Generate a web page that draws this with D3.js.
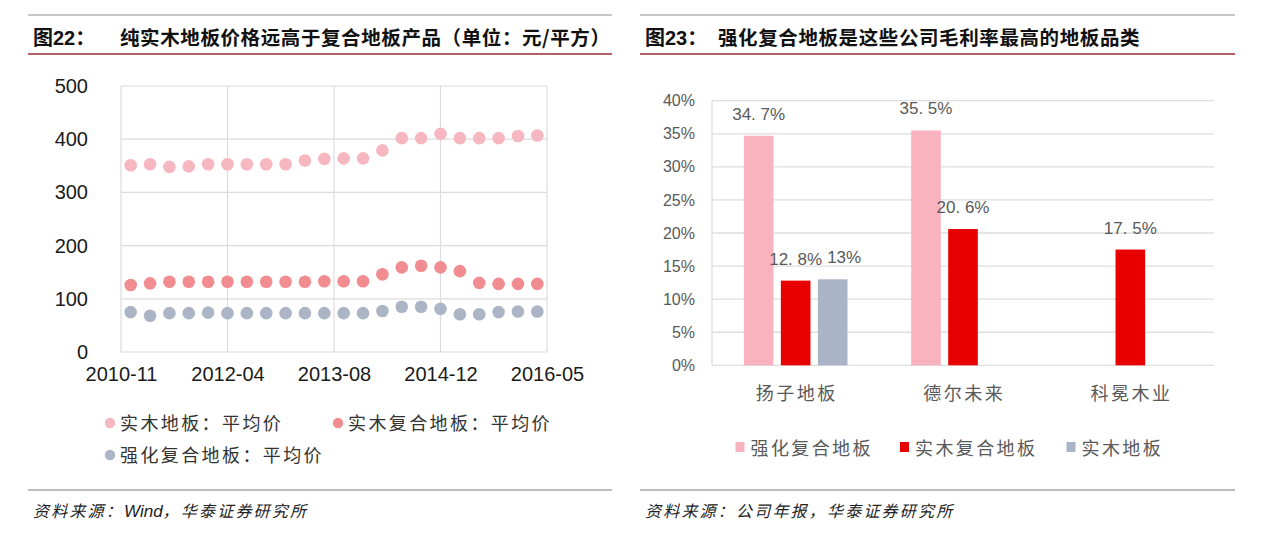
<!DOCTYPE html>
<html><head><meta charset="utf-8">
<script src="https://cdn.jsdelivr.net/npm/d3@7"></script>
<style>
body{margin:0;background:#fff;}
svg{display:block;}
</style></head>
<body>
<svg id="c" width="1280" height="534"></svg>
<script>
// ---------- DATA: left chart (quarterly average prices, 元/平方) ----------
const quarterCount = 22;
const xTickLabels = ["2010-11","2012-04","2013-08","2014-12","2016-05"];
const yTicksLeft = [0,100,200,300,400,500];
const solidWood = [351,353,348,349,353,353,353,353,353,360,363,364,364,379,402,402,410,402,402,402,406,407];
const engineeredWood = [126,129,132,132,132,132,132,132,132,132,133,133,133,146,159,162,159,152,130,128,128,128];
const laminate = [75,68,73,73,74,73,73,73,73,73,73,73,73,77,85,85,81,71,71,75,76,76];
const leftSeriesNames = ["实木地板：平均价","实木复合地板：平均价","强化复合地板：平均价"];

// ---------- DATA: right chart (gross margin %) ----------
const companies = ["扬子地板","德尔未来","科冕木业"];
const rightSeriesNames = ["强化复合地板","实木复合地板","实木地板"];
const marginLaminate = [34.7,35.5,null];
const marginEngineered = [12.8,20.6,17.5];
const marginSolid = [13,null,null];
const yTicksRight = [0,5,10,15,20,25,30,35,40];

const svg = d3.select("#c");
svg.append("rect").attr("width",1280).attr("height",534).attr("fill","#fff");

const CJK = "'Noto Sans CJK SC','Noto Sans',sans-serif";
const LAT = "'Liberation Sans',Arial,sans-serif";

// ---------- frame lines & titles ----------
function panelFrame(x0,x1,num,title,source){
  svg.append("line").attr("x1",x0).attr("x2",x1).attr("y1",15).attr("y2",15)
    .attr("stroke","#b4b4b4").attr("stroke-width",1.5);
  svg.append("line").attr("x1",x0).attr("x2",x1).attr("y1",54).attr("y2",54)
    .attr("stroke","#9c2a30").attr("stroke-width",1.3);
  svg.append("line").attr("x1",x0).attr("x2",x1).attr("y1",490).attr("y2",490)
    .attr("stroke","#a8a8a8").attr("stroke-width",1.3);
  const t = svg.append("text").attr("x",x0+5).attr("y",45).attr("font-size",20)
    .attr("font-weight",700).attr("fill","#111");
  t.append("tspan").attr("font-family",CJK).text("图");
  t.append("tspan").attr("font-family",LAT).text(num);
  t.append("tspan").attr("font-family",CJK).text("：");
  svg.append("text").attr("x",x0+ (num==="22"?92:78)).attr("y",45).attr("font-size",19.5)
    .attr("font-weight",700).attr("font-family",CJK).attr("letter-spacing",0.6)
    .attr("fill","#111").text(title);
  const s = svg.append("text").attr("x",x0+5).attr("y",517).attr("font-size",16)
    .attr("font-style","italic").attr("font-family",CJK)
    .attr("fill","#222");
  source.forEach(p=>s.append("tspan").attr("font-family",p[1]?LAT:CJK)
    .attr("font-size",p[1]?17:16).attr("letter-spacing",p[1]?0:2.2).text(p[0]));
}
panelFrame(28,612,"22","纯实木地板价格远高于复合地板产品（单位：元/平方）",
  [["资料来源：",0],["Wind",1],["，华泰证券研究所",0]]);
panelFrame(640,1235,"23","强化复合地板是这些公司毛利率最高的地板品类",
  [["资料来源：公司年报，华泰证券研究所",0]]);

// ---------- LEFT CHART ----------
const L = {left:121,right:547,top:86,bottom:352};
const xL = d3.scaleLinear().domain([-0.5, quarterCount-0.5]).range([L.left,L.right]);
const yL = d3.scaleLinear().domain([0,500]).range([L.bottom,L.top]);
const tickPos = [-0.5, 5, 10.5, 16, quarterCount-0.5];

const gL = svg.append("g");
gL.selectAll("line.h").data(yTicksLeft).join("line")
  .attr("x1",L.left).attr("x2",L.right).attr("y1",d=>yL(d)).attr("y2",d=>yL(d))
  .attr("stroke","#dcdcdc").attr("stroke-width",1.2);
gL.selectAll("line.v").data(tickPos).join("line")
  .attr("x1",d=>xL(d)).attr("x2",d=>xL(d)).attr("y1",L.top).attr("y2",L.bottom)
  .attr("stroke","#dcdcdc").attr("stroke-width",1.2);

const yAxisL = svg.append("g").attr("transform",`translate(${L.left},0)`)
  .call(d3.axisLeft(yL).tickValues(yTicksLeft).tickSize(0).tickPadding(33));
yAxisL.select(".domain").remove();
yAxisL.selectAll("text").attr("font-family",LAT).attr("font-size",20).attr("fill","#1a1a1a");

const xAxisL = svg.append("g").attr("transform",`translate(0,${L.bottom})`)
  .call(d3.axisBottom(xL).tickValues(tickPos).tickFormat((d,i)=>xTickLabels[i]).tickSize(0).tickPadding(15));
xAxisL.select(".domain").remove();
xAxisL.selectAll("text").attr("font-family",LAT).attr("font-size",20).attr("fill","#1a1a1a");

const leftColors = ["#f7b7c1","#f18c91","#abb5c5"];
[solidWood,engineeredWood,laminate].forEach((arr,si)=>{
  gL.append("g").selectAll("circle").data(arr).join("circle")
    .attr("cx",(d,i)=>xL(i)).attr("cy",d=>yL(d)).attr("r",6.3).attr("fill",leftColors[si]);
});

// left legend
const legL = [[110,423],[338,423],[110,455]];
leftSeriesNames.forEach((n,i)=>{
  svg.append("circle").attr("cx",legL[i][0]).attr("cy",legL[i][1]).attr("r",5.2).attr("fill",leftColors[i]);
  svg.append("text").attr("x",legL[i][0]+10).attr("y",legL[i][1]+6.5)
    .attr("font-family",CJK).attr("font-size",18).attr("letter-spacing",2.4)
    .attr("fill","#333").text(n);
});

// ---------- RIGHT CHART ----------
const R = {left:712,right:1214,top:100.7,bottom:365.3};
const x0 = d3.scaleBand().domain(companies).range([R.left,R.right]);
const x1 = d3.scaleBand().domain(rightSeriesNames).range([0,x0.bandwidth()])
  .paddingInner(0.2).paddingOuter(0.86);
const yR = d3.scaleLinear().domain([0,40]).range([R.bottom,R.top]);

const gR = svg.append("g");
gR.selectAll("line").data(yTicksRight).join("line")
  .attr("x1",R.left).attr("x2",R.right).attr("y1",d=>yR(d)).attr("y2",d=>yR(d))
  .attr("stroke","#dedede").attr("stroke-width",1.3);
gR.append("line").attr("x1",R.left).attr("x2",R.left).attr("y1",R.top).attr("y2",R.bottom)
  .attr("stroke","#dedede").attr("stroke-width",1.3);

const yAxisR = svg.append("g").attr("transform",`translate(${R.left},0)`)
  .call(d3.axisLeft(yR).tickValues(yTicksRight).tickFormat(d=>d+"%").tickSize(0).tickPadding(17));
yAxisR.select(".domain").remove();
yAxisR.selectAll("text").attr("font-family",LAT).attr("font-size",16).attr("fill","#595959");

const xAxisR = svg.append("g").attr("transform",`translate(0,${R.bottom})`)
  .call(d3.axisBottom(x0).tickSize(0).tickPadding(22));
xAxisR.select(".domain").remove();
xAxisR.selectAll("text").attr("font-family",CJK).attr("font-size",18).attr("letter-spacing",2.5)
  .attr("dx",1.2).attr("fill","#595959");

const rightColors = ["#f9b3bf","#e80000","#a9b4c6"];
const rightSeries = [marginLaminate,marginEngineered,marginSolid];
const fmt = v => (Number.isInteger(v) ? String(v) : v.toFixed(1).replace(".", ". ")) + "%";

companies.forEach((c,ci)=>{
  let prev = null;
  rightSeriesNames.forEach((s,si)=>{
    const v = rightSeries[si][ci];
    if(v==null) return;
    const bx = x0(c)+x1(s);
    gR.append("rect").attr("x",bx).attr("y",yR(v)).attr("width",x1.bandwidth())
      .attr("height",yR(0)-yR(v)).attr("fill",rightColors[si]);
    const ty = yR(v)-16;
    const t = gR.append("text").attr("x",bx+x1.bandwidth()/2).attr("y",ty)
      .attr("text-anchor","middle").attr("font-family",LAT).attr("font-size",17)
      .attr("fill","#595959").text(fmt(v));
    const bb = t.node().getBBox();
    if(prev && Math.abs(prev.y-ty) < 18 && bb.x < prev.right+5){
      t.attr("x", +t.attr("x") + (prev.right+5-bb.x));
    }
    const nb = t.node().getBBox();
    prev = {right: nb.x+nb.width, y: ty};
  });
});

// right legend
const legR = [735.5,900,1066.5];
rightSeriesNames.forEach((n,i)=>{
  svg.append("rect").attr("x",legR[i]).attr("y",442).attr("width",9).attr("height",10).attr("fill",rightColors[i]);
  svg.append("text").attr("x",legR[i]+15).attr("y",454.5)
    .attr("font-family",CJK).attr("font-size",18).attr("letter-spacing",2.4)
    .attr("fill","#595959").text(n);
});
</script>
</body></html>
